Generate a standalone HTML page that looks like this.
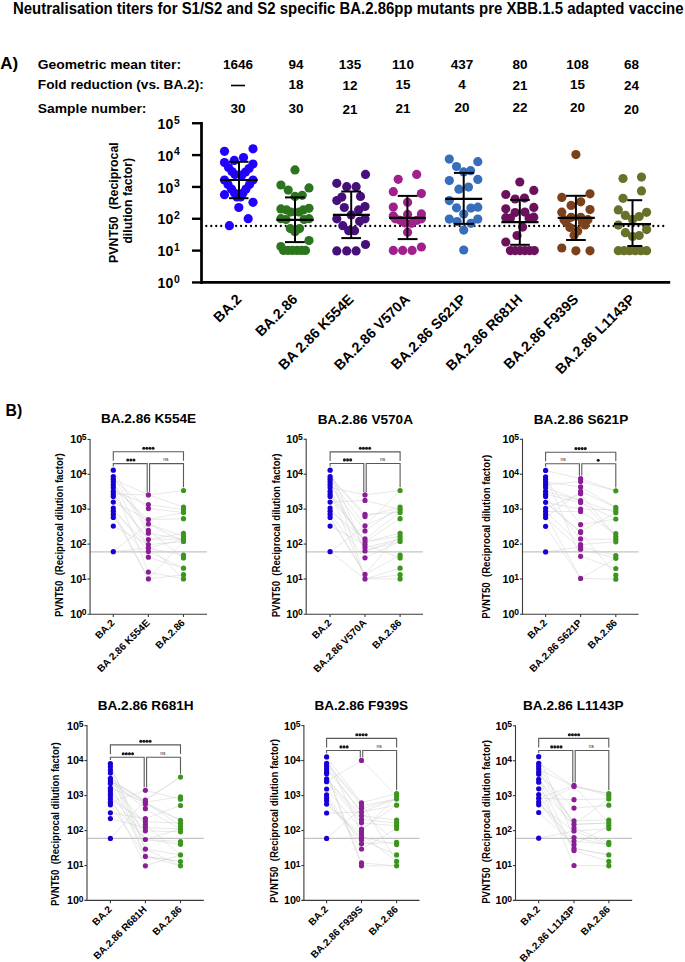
<!DOCTYPE html>
<html><head><meta charset="utf-8"><style>
html,body{margin:0;padding:0;background:#fff;}
body{width:685px;height:962px;overflow:hidden;}
svg{display:block;font-family:"Liberation Sans", sans-serif;}
</style></head><body>
<svg width="685" height="962" viewBox="0 0 685 962">
<rect width="685" height="962" fill="#fff"/>
<text x="13" y="13.7" font-size="15.6" font-weight="bold" textLength="670.5" lengthAdjust="spacingAndGlyphs" fill="#000">Neutralisation titers for S1/S2 and S2 specific BA.2.86pp mutants pre XBB.1.5 adapted vaccine</text>
<text x="0.3" y="68.9" font-size="17" font-weight="bold" fill="#000">A)</text>
<text x="37.8" y="68.8" font-size="13.6" font-weight="bold" textLength="143.3" lengthAdjust="spacingAndGlyphs" fill="#000">Geometric mean titer:</text>
<text x="37.8" y="88.9" font-size="13.6" font-weight="bold" textLength="166" lengthAdjust="spacingAndGlyphs" fill="#000">Fold reduction (vs. BA.2):</text>
<text x="37.8" y="112.6" font-size="13.6" font-weight="bold" textLength="108.6" lengthAdjust="spacingAndGlyphs" fill="#000">Sample number:</text>
<text x="238" y="68.6" font-size="13.5" font-weight="bold" text-anchor="middle" fill="#000">1646</text>
<line x1="231" y1="85.5" x2="245" y2="85.5" stroke="#000" stroke-width="1.6"/>
<text x="238" y="113.3" font-size="13.5" font-weight="bold" text-anchor="middle" fill="#000">30</text>
<text x="296" y="68.6" font-size="13.5" font-weight="bold" text-anchor="middle" fill="#000">94</text>
<text x="296" y="88.5" font-size="13.5" font-weight="bold" text-anchor="middle" fill="#000">18</text>
<text x="296" y="113.3" font-size="13.5" font-weight="bold" text-anchor="middle" fill="#000">30</text>
<text x="350" y="68.6" font-size="13.5" font-weight="bold" text-anchor="middle" fill="#000">135</text>
<text x="350" y="89.6" font-size="13.5" font-weight="bold" text-anchor="middle" fill="#000">12</text>
<text x="350" y="113.7" font-size="13.5" font-weight="bold" text-anchor="middle" fill="#000">21</text>
<text x="403" y="68.6" font-size="13.5" font-weight="bold" text-anchor="middle" fill="#000">110</text>
<text x="403" y="89.2" font-size="13.5" font-weight="bold" text-anchor="middle" fill="#000">15</text>
<text x="403" y="113.3" font-size="13.5" font-weight="bold" text-anchor="middle" fill="#000">21</text>
<text x="462" y="68.6" font-size="13.5" font-weight="bold" text-anchor="middle" fill="#000">437</text>
<text x="462" y="88.5" font-size="13.5" font-weight="bold" text-anchor="middle" fill="#000">4</text>
<text x="462" y="111.6" font-size="13.5" font-weight="bold" text-anchor="middle" fill="#000">20</text>
<text x="520" y="68.6" font-size="13.5" font-weight="bold" text-anchor="middle" fill="#000">80</text>
<text x="520" y="89.6" font-size="13.5" font-weight="bold" text-anchor="middle" fill="#000">21</text>
<text x="520" y="112" font-size="13.5" font-weight="bold" text-anchor="middle" fill="#000">22</text>
<text x="577.5" y="68.6" font-size="13.5" font-weight="bold" text-anchor="middle" fill="#000">108</text>
<text x="577.5" y="88.5" font-size="13.5" font-weight="bold" text-anchor="middle" fill="#000">15</text>
<text x="577.5" y="112" font-size="13.5" font-weight="bold" text-anchor="middle" fill="#000">20</text>
<text x="631.4" y="68.6" font-size="13.5" font-weight="bold" text-anchor="middle" fill="#000">68</text>
<text x="631.4" y="89.6" font-size="13.5" font-weight="bold" text-anchor="middle" fill="#000">24</text>
<text x="631.4" y="113.7" font-size="13.5" font-weight="bold" text-anchor="middle" fill="#000">20</text>
<line x1="206.3" y1="226" x2="668.2" y2="226" stroke="#000" stroke-width="2.3" stroke-linecap="round" stroke-dasharray="0 4.967"/>
<circle cx="224.5" cy="151.3" r="4.6" fill="#2000ff"/>
<circle cx="253" cy="148.8" r="4.6" fill="#2000ff"/>
<circle cx="234.3" cy="160.4" r="4.6" fill="#2000ff"/>
<circle cx="243.5" cy="157.5" r="4.6" fill="#2000ff"/>
<circle cx="224.5" cy="162.6" r="4.6" fill="#2000ff"/>
<circle cx="253" cy="164.1" r="4.6" fill="#2000ff"/>
<circle cx="228.5" cy="167.5" r="4.6" fill="#2000ff"/>
<circle cx="232" cy="171.5" r="4.6" fill="#2000ff"/>
<circle cx="235" cy="174.5" r="4.6" fill="#2000ff"/>
<circle cx="249" cy="168.5" r="4.6" fill="#2000ff"/>
<circle cx="245.5" cy="172" r="4.6" fill="#2000ff"/>
<circle cx="242" cy="175" r="4.6" fill="#2000ff"/>
<circle cx="224.5" cy="180" r="4.6" fill="#2000ff"/>
<circle cx="228" cy="184.5" r="4.6" fill="#2000ff"/>
<circle cx="231.5" cy="189" r="4.6" fill="#2000ff"/>
<circle cx="234.5" cy="193" r="4.6" fill="#2000ff"/>
<circle cx="237" cy="197" r="4.6" fill="#2000ff"/>
<circle cx="253" cy="180" r="4.6" fill="#2000ff"/>
<circle cx="249.5" cy="184.5" r="4.6" fill="#2000ff"/>
<circle cx="246" cy="189" r="4.6" fill="#2000ff"/>
<circle cx="243" cy="193" r="4.6" fill="#2000ff"/>
<circle cx="240.5" cy="197" r="4.6" fill="#2000ff"/>
<circle cx="224.5" cy="194.7" r="4.6" fill="#2000ff"/>
<circle cx="253" cy="202.3" r="4.6" fill="#2000ff"/>
<circle cx="238.8" cy="207.5" r="4.6" fill="#2000ff"/>
<circle cx="248.2" cy="218.7" r="4.6" fill="#2000ff"/>
<circle cx="229.4" cy="225.7" r="4.6" fill="#2000ff"/>
<circle cx="295" cy="169.9" r="4.6" fill="#2c751e"/>
<circle cx="280.9" cy="185" r="4.6" fill="#2c751e"/>
<circle cx="288.2" cy="190.1" r="4.6" fill="#2c751e"/>
<circle cx="309" cy="187.9" r="4.6" fill="#2c751e"/>
<circle cx="295" cy="196.4" r="4.6" fill="#2c751e"/>
<circle cx="302.2" cy="195.3" r="4.6" fill="#2c751e"/>
<circle cx="280.9" cy="208.9" r="4.6" fill="#2c751e"/>
<circle cx="286.6" cy="209.9" r="4.6" fill="#2c751e"/>
<circle cx="290.8" cy="212" r="4.6" fill="#2c751e"/>
<circle cx="280.9" cy="218.7" r="4.6" fill="#2c751e"/>
<circle cx="286" cy="219.5" r="4.6" fill="#2c751e"/>
<circle cx="309" cy="208.3" r="4.6" fill="#2c751e"/>
<circle cx="303.3" cy="209.9" r="4.6" fill="#2c751e"/>
<circle cx="299" cy="212" r="4.6" fill="#2c751e"/>
<circle cx="309" cy="218.7" r="4.6" fill="#2c751e"/>
<circle cx="304" cy="219.5" r="4.6" fill="#2c751e"/>
<circle cx="290.3" cy="228.6" r="4.6" fill="#2c751e"/>
<circle cx="299.6" cy="228.6" r="4.6" fill="#2c751e"/>
<circle cx="295" cy="231.7" r="4.6" fill="#2c751e"/>
<circle cx="309" cy="240.6" r="4.6" fill="#2c751e"/>
<circle cx="280.9" cy="246.6" r="4.6" fill="#2c751e"/>
<circle cx="283.5" cy="250.4" r="4.6" fill="#2c751e"/>
<circle cx="288" cy="250.4" r="4.6" fill="#2c751e"/>
<circle cx="292.5" cy="250.4" r="4.6" fill="#2c751e"/>
<circle cx="297" cy="250.4" r="4.6" fill="#2c751e"/>
<circle cx="301.5" cy="250.4" r="4.6" fill="#2c751e"/>
<circle cx="305.5" cy="250.4" r="4.6" fill="#2c751e"/>
<circle cx="365.5" cy="174.4" r="4.6" fill="#46107a"/>
<circle cx="336.8" cy="183.3" r="4.6" fill="#46107a"/>
<circle cx="346.7" cy="186.7" r="4.6" fill="#46107a"/>
<circle cx="356.1" cy="186.7" r="4.6" fill="#46107a"/>
<circle cx="341.8" cy="197.1" r="4.6" fill="#46107a"/>
<circle cx="336.8" cy="200.6" r="4.6" fill="#46107a"/>
<circle cx="360.5" cy="196.4" r="4.6" fill="#46107a"/>
<circle cx="344.3" cy="207.5" r="4.6" fill="#46107a"/>
<circle cx="365" cy="206.5" r="4.6" fill="#46107a"/>
<circle cx="358.6" cy="209.9" r="4.6" fill="#46107a"/>
<circle cx="351.2" cy="214.9" r="4.6" fill="#46107a"/>
<circle cx="336.8" cy="218.8" r="4.6" fill="#46107a"/>
<circle cx="365" cy="218.8" r="4.6" fill="#46107a"/>
<circle cx="359.6" cy="221.3" r="4.6" fill="#46107a"/>
<circle cx="342.8" cy="225.7" r="4.6" fill="#46107a"/>
<circle cx="348.7" cy="230.7" r="4.6" fill="#46107a"/>
<circle cx="354.6" cy="230.7" r="4.6" fill="#46107a"/>
<circle cx="365.5" cy="244.5" r="4.6" fill="#46107a"/>
<circle cx="336.8" cy="250.9" r="4.6" fill="#46107a"/>
<circle cx="346.7" cy="250.9" r="4.6" fill="#46107a"/>
<circle cx="356.1" cy="250.9" r="4.6" fill="#46107a"/>
<circle cx="416.7" cy="174.4" r="4.6" fill="#a0208c"/>
<circle cx="398.2" cy="179.3" r="4.6" fill="#a0208c"/>
<circle cx="393.3" cy="191.7" r="4.6" fill="#a0208c"/>
<circle cx="421.4" cy="193.6" r="4.6" fill="#a0208c"/>
<circle cx="407.6" cy="202.3" r="4.6" fill="#a0208c"/>
<circle cx="393.3" cy="207" r="4.6" fill="#a0208c"/>
<circle cx="421.4" cy="213.9" r="4.6" fill="#a0208c"/>
<circle cx="407.6" cy="214.4" r="4.6" fill="#a0208c"/>
<circle cx="393.3" cy="215.9" r="4.6" fill="#a0208c"/>
<circle cx="395.3" cy="218.8" r="4.6" fill="#a0208c"/>
<circle cx="400.2" cy="220.3" r="4.6" fill="#a0208c"/>
<circle cx="404.7" cy="222.8" r="4.6" fill="#a0208c"/>
<circle cx="411.6" cy="223.3" r="4.6" fill="#a0208c"/>
<circle cx="417" cy="220.3" r="4.6" fill="#a0208c"/>
<circle cx="421.4" cy="218.8" r="4.6" fill="#a0208c"/>
<circle cx="407.6" cy="232.2" r="4.6" fill="#a0208c"/>
<circle cx="421.4" cy="247" r="4.6" fill="#a0208c"/>
<circle cx="393.3" cy="250.4" r="4.6" fill="#a0208c"/>
<circle cx="402.7" cy="250.4" r="4.6" fill="#a0208c"/>
<circle cx="412.1" cy="250.4" r="4.6" fill="#a0208c"/>
<circle cx="449.3" cy="159.1" r="4.6" fill="#376eb9"/>
<circle cx="477.8" cy="161.7" r="4.6" fill="#376eb9"/>
<circle cx="456.5" cy="166.5" r="4.6" fill="#376eb9"/>
<circle cx="463.7" cy="171.9" r="4.6" fill="#376eb9"/>
<circle cx="470.6" cy="170.7" r="4.6" fill="#376eb9"/>
<circle cx="449.3" cy="180.6" r="4.6" fill="#376eb9"/>
<circle cx="477.8" cy="179.4" r="4.6" fill="#376eb9"/>
<circle cx="458.9" cy="189.2" r="4.6" fill="#376eb9"/>
<circle cx="468.5" cy="187.1" r="4.6" fill="#376eb9"/>
<circle cx="449.3" cy="200.6" r="4.6" fill="#376eb9"/>
<circle cx="456.5" cy="207.8" r="4.6" fill="#376eb9"/>
<circle cx="470.9" cy="208.1" r="4.6" fill="#376eb9"/>
<circle cx="477.8" cy="207.2" r="4.6" fill="#376eb9"/>
<circle cx="463.7" cy="214.1" r="4.6" fill="#376eb9"/>
<circle cx="449.3" cy="219.1" r="4.6" fill="#376eb9"/>
<circle cx="457.1" cy="221.5" r="4.6" fill="#376eb9"/>
<circle cx="470.9" cy="223.3" r="4.6" fill="#376eb9"/>
<circle cx="477.8" cy="219.1" r="4.6" fill="#376eb9"/>
<circle cx="463.7" cy="230.1" r="4.6" fill="#376eb9"/>
<circle cx="463.7" cy="250" r="4.6" fill="#376eb9"/>
<circle cx="519.8" cy="182" r="4.6" fill="#6a125c"/>
<circle cx="533.8" cy="190.4" r="4.6" fill="#6a125c"/>
<circle cx="505.8" cy="194.5" r="4.6" fill="#6a125c"/>
<circle cx="515.1" cy="199" r="4.6" fill="#6a125c"/>
<circle cx="524.5" cy="198.1" r="4.6" fill="#6a125c"/>
<circle cx="505.8" cy="208.8" r="4.6" fill="#6a125c"/>
<circle cx="533.8" cy="207.4" r="4.6" fill="#6a125c"/>
<circle cx="515.1" cy="212.6" r="4.6" fill="#6a125c"/>
<circle cx="524.9" cy="212.1" r="4.6" fill="#6a125c"/>
<circle cx="505.8" cy="217.7" r="4.6" fill="#6a125c"/>
<circle cx="510.4" cy="218.2" r="4.6" fill="#6a125c"/>
<circle cx="533.8" cy="217.2" r="4.6" fill="#6a125c"/>
<circle cx="529.1" cy="218.2" r="4.6" fill="#6a125c"/>
<circle cx="522.6" cy="227.1" r="4.6" fill="#6a125c"/>
<circle cx="517" cy="235.5" r="4.6" fill="#6a125c"/>
<circle cx="505.8" cy="242" r="4.6" fill="#6a125c"/>
<circle cx="510.4" cy="250.6" r="4.6" fill="#6a125c"/>
<circle cx="515.2" cy="250.6" r="4.6" fill="#6a125c"/>
<circle cx="520" cy="250.6" r="4.6" fill="#6a125c"/>
<circle cx="524.8" cy="250.6" r="4.6" fill="#6a125c"/>
<circle cx="529.6" cy="250.6" r="4.6" fill="#6a125c"/>
<circle cx="534.3" cy="250.6" r="4.6" fill="#6a125c"/>
<circle cx="575.9" cy="154.6" r="4.6" fill="#7b411a"/>
<circle cx="590" cy="193.8" r="4.6" fill="#7b411a"/>
<circle cx="561.8" cy="197.4" r="4.6" fill="#7b411a"/>
<circle cx="580.7" cy="201.8" r="4.6" fill="#7b411a"/>
<circle cx="571.1" cy="205.4" r="4.6" fill="#7b411a"/>
<circle cx="590" cy="209.6" r="4.6" fill="#7b411a"/>
<circle cx="561.8" cy="212.2" r="4.6" fill="#7b411a"/>
<circle cx="571.1" cy="217.3" r="4.6" fill="#7b411a"/>
<circle cx="580.7" cy="217.3" r="4.6" fill="#7b411a"/>
<circle cx="564" cy="219.7" r="4.6" fill="#7b411a"/>
<circle cx="587.9" cy="219.7" r="4.6" fill="#7b411a"/>
<circle cx="566" cy="222" r="4.6" fill="#7b411a"/>
<circle cx="585" cy="225" r="4.6" fill="#7b411a"/>
<circle cx="569.9" cy="227.5" r="4.6" fill="#7b411a"/>
<circle cx="582.5" cy="222.7" r="4.6" fill="#7b411a"/>
<circle cx="577.7" cy="231.1" r="4.6" fill="#7b411a"/>
<circle cx="574.1" cy="235.3" r="4.6" fill="#7b411a"/>
<circle cx="561.8" cy="248" r="4.6" fill="#7b411a"/>
<circle cx="575.9" cy="250.8" r="4.6" fill="#7b411a"/>
<circle cx="590" cy="250.8" r="4.6" fill="#7b411a"/>
<circle cx="623" cy="178.5" r="4.6" fill="#68702a"/>
<circle cx="641.5" cy="177.1" r="4.6" fill="#68702a"/>
<circle cx="641.5" cy="190.9" r="4.6" fill="#68702a"/>
<circle cx="623" cy="198.3" r="4.6" fill="#68702a"/>
<circle cx="618.3" cy="209.9" r="4.6" fill="#68702a"/>
<circle cx="625.4" cy="215.4" r="4.6" fill="#68702a"/>
<circle cx="632.5" cy="219.4" r="4.6" fill="#68702a"/>
<circle cx="639.2" cy="216.5" r="4.6" fill="#68702a"/>
<circle cx="646.6" cy="212.3" r="4.6" fill="#68702a"/>
<circle cx="618.3" cy="225.1" r="4.6" fill="#68702a"/>
<circle cx="625.4" cy="232.7" r="4.6" fill="#68702a"/>
<circle cx="632.5" cy="236.5" r="4.6" fill="#68702a"/>
<circle cx="639.2" cy="235.5" r="4.6" fill="#68702a"/>
<circle cx="646.6" cy="229.6" r="4.6" fill="#68702a"/>
<circle cx="618.3" cy="250.7" r="4.6" fill="#68702a"/>
<circle cx="624" cy="250.7" r="4.6" fill="#68702a"/>
<circle cx="629.6" cy="250.7" r="4.6" fill="#68702a"/>
<circle cx="635.3" cy="250.7" r="4.6" fill="#68702a"/>
<circle cx="641" cy="250.7" r="4.6" fill="#68702a"/>
<circle cx="646.6" cy="250.7" r="4.6" fill="#68702a"/>
<line x1="239" y1="161.8" x2="239" y2="198.2" stroke="#000" stroke-width="2"/>
<line x1="229" y1="161.8" x2="248.5" y2="161.8" stroke="#000" stroke-width="2"/>
<line x1="229" y1="198.2" x2="248.5" y2="198.2" stroke="#000" stroke-width="2"/>
<line x1="220.3" y1="180" x2="257.6" y2="180" stroke="#000" stroke-width="2.2"/>
<line x1="295" y1="197.4" x2="295" y2="242.1" stroke="#000" stroke-width="2"/>
<line x1="285" y1="197.4" x2="304.8" y2="197.4" stroke="#000" stroke-width="2"/>
<line x1="285" y1="242.1" x2="304.8" y2="242.1" stroke="#000" stroke-width="2"/>
<line x1="276.4" y1="219.8" x2="313.7" y2="219.8" stroke="#000" stroke-width="2.2"/>
<line x1="351.2" y1="191.5" x2="351.2" y2="238.1" stroke="#000" stroke-width="2"/>
<line x1="341.3" y1="191.5" x2="361" y2="191.5" stroke="#000" stroke-width="2"/>
<line x1="341.3" y1="238.1" x2="361" y2="238.1" stroke="#000" stroke-width="2"/>
<line x1="332.9" y1="214.9" x2="369.9" y2="214.9" stroke="#000" stroke-width="2.2"/>
<line x1="407.4" y1="195.9" x2="407.4" y2="239.1" stroke="#000" stroke-width="2"/>
<line x1="397.7" y1="195.9" x2="417.5" y2="195.9" stroke="#000" stroke-width="2"/>
<line x1="397.7" y1="239.1" x2="417.5" y2="239.1" stroke="#000" stroke-width="2"/>
<line x1="389" y1="217.8" x2="425.9" y2="217.8" stroke="#000" stroke-width="2.2"/>
<line x1="463.7" y1="172.9" x2="463.7" y2="223.9" stroke="#000" stroke-width="2"/>
<line x1="453.9" y1="172.9" x2="473.9" y2="172.9" stroke="#000" stroke-width="2"/>
<line x1="453.9" y1="223.9" x2="473.9" y2="223.9" stroke="#000" stroke-width="2"/>
<line x1="445.2" y1="198.8" x2="482.2" y2="198.8" stroke="#000" stroke-width="2.2"/>
<line x1="519.8" y1="199.9" x2="519.8" y2="244.8" stroke="#000" stroke-width="2"/>
<line x1="510.2" y1="199.9" x2="529.8" y2="199.9" stroke="#000" stroke-width="2"/>
<line x1="510.2" y1="244.8" x2="529.8" y2="244.8" stroke="#000" stroke-width="2"/>
<line x1="501.4" y1="222.2" x2="538.5" y2="222.2" stroke="#000" stroke-width="2.2"/>
<line x1="575.9" y1="195.8" x2="575.9" y2="240" stroke="#000" stroke-width="2"/>
<line x1="566.1" y1="195.8" x2="585.8" y2="195.8" stroke="#000" stroke-width="2"/>
<line x1="566.1" y1="240" x2="585.8" y2="240" stroke="#000" stroke-width="2"/>
<line x1="557.7" y1="217.9" x2="594.8" y2="217.9" stroke="#000" stroke-width="2.2"/>
<line x1="632.5" y1="200.2" x2="632.5" y2="246" stroke="#000" stroke-width="2"/>
<line x1="627.3" y1="200.2" x2="642.2" y2="200.2" stroke="#000" stroke-width="2"/>
<line x1="627.3" y1="246" x2="642.2" y2="246" stroke="#000" stroke-width="2"/>
<line x1="614" y1="224.1" x2="651" y2="224.1" stroke="#000" stroke-width="2.2"/>
<line x1="201.5" y1="122" x2="201.5" y2="283.8" stroke="#000" stroke-width="2.75"/>
<line x1="200.2" y1="282.45" x2="670.2" y2="282.45" stroke="#000" stroke-width="2.7"/>
<line x1="192" y1="282.45" x2="201.5" y2="282.45" stroke="#000" stroke-width="2.4"/>
<text x="173.2" y="288.05" font-size="14" font-weight="bold" text-anchor="end" fill="#000">10</text>
<text x="173.9" y="282.85" font-size="10.4" font-weight="bold" fill="#000">0</text>
<line x1="192" y1="250.61" x2="201.5" y2="250.61" stroke="#000" stroke-width="2.4"/>
<text x="173.2" y="256.21" font-size="14" font-weight="bold" text-anchor="end" fill="#000">10</text>
<text x="173.9" y="251.01" font-size="10.4" font-weight="bold" fill="#000">1</text>
<line x1="192" y1="218.77" x2="201.5" y2="218.77" stroke="#000" stroke-width="2.4"/>
<text x="173.2" y="224.37" font-size="14" font-weight="bold" text-anchor="end" fill="#000">10</text>
<text x="173.9" y="219.17" font-size="10.4" font-weight="bold" fill="#000">2</text>
<line x1="192" y1="186.93" x2="201.5" y2="186.93" stroke="#000" stroke-width="2.4"/>
<text x="173.2" y="192.53" font-size="14" font-weight="bold" text-anchor="end" fill="#000">10</text>
<text x="173.9" y="187.33" font-size="10.4" font-weight="bold" fill="#000">3</text>
<line x1="192" y1="155.09" x2="201.5" y2="155.09" stroke="#000" stroke-width="2.4"/>
<text x="173.2" y="160.69" font-size="14" font-weight="bold" text-anchor="end" fill="#000">10</text>
<text x="173.9" y="155.49" font-size="10.4" font-weight="bold" fill="#000">4</text>
<line x1="192" y1="123.25" x2="201.5" y2="123.25" stroke="#000" stroke-width="2.4"/>
<text x="173.2" y="128.85" font-size="14" font-weight="bold" text-anchor="end" fill="#000">10</text>
<text x="173.9" y="123.65" font-size="10.4" font-weight="bold" fill="#000">5</text>
<text transform="translate(117.6,202.6) rotate(-90)" font-size="12.9" font-weight="bold" text-anchor="middle" textLength="120.6" lengthAdjust="spacingAndGlyphs">PVNT50 &#160;(Reciprocal</text>
<text transform="translate(132,200.8) rotate(-90)" font-size="12.9" font-weight="bold" text-anchor="middle" textLength="85.6" lengthAdjust="spacingAndGlyphs">dilution factor)</text>
<text transform="translate(242.4,300.2) rotate(-45)" font-size="14.3" font-weight="bold" text-anchor="end">BA.2</text>
<text transform="translate(298.4,300.2) rotate(-45)" font-size="14.3" font-weight="bold" text-anchor="end">BA.2.86</text>
<text transform="translate(354.6,300.2) rotate(-45)" font-size="14.3" font-weight="bold" text-anchor="end">BA 2.86 K554E</text>
<text transform="translate(410.8,300.2) rotate(-45)" font-size="14.3" font-weight="bold" text-anchor="end">BA.2.86 V570A</text>
<text transform="translate(467.1,300.2) rotate(-45)" font-size="14.3" font-weight="bold" text-anchor="end">BA.2.86 S621P</text>
<text transform="translate(523.2,300.2) rotate(-45)" font-size="14.3" font-weight="bold" text-anchor="end">BA.2.86 R681H</text>
<text transform="translate(579.3,300.2) rotate(-45)" font-size="14.3" font-weight="bold" text-anchor="end">BA.2.86 F939S</text>
<text transform="translate(635.9,300.2) rotate(-45)" font-size="14.3" font-weight="bold" text-anchor="end">BA.2.86 L1143P</text>
<text x="5.5" y="416.4" font-size="15.8" font-weight="bold" fill="#000">B)</text>
<text x="148.5" y="423.1" font-size="13.6" font-weight="bold" text-anchor="middle" fill="#000">BA.2.86 K554E</text>
<line x1="90.05" y1="551.85" x2="207" y2="551.85" stroke="#c4c4c4" stroke-width="1.3"/>
<path d="M113.3 470.2L148.4 530.3L183.5 558M113.3 476.6L148.4 533.2L183.5 539M113.3 479.2L148.4 494.9L183.5 507M113.3 479.2L148.4 508.6L183.5 512.4M113.3 481.8L148.4 548.1L183.5 555.2M113.3 484.6L148.4 572.1L183.5 578.9M113.3 484.6L148.4 524L183.5 541.5M113.3 487.4L148.4 519.5L183.5 512.4M113.3 491.2L148.4 504.6L183.5 509.6M113.3 494L148.4 494.9L183.5 490.5M113.3 494L148.4 539.5L183.5 539M113.3 496.4L148.4 539.5L183.5 533.3M113.3 502.1L148.4 519.5L183.5 518.7M113.3 508.1L148.4 551.5L183.5 568.2M113.3 511.2L148.4 544.6L183.5 578.9M113.3 511.2L148.4 578.9L183.5 541.5M113.3 514.3L148.4 578.9L183.5 574.7M113.3 517.4L148.4 557.2L183.5 568.2M113.3 526.1L148.4 544.6L183.5 541.5M113.3 551.7L148.4 548.1L183.5 539M113.3 551.7L148.4 524L183.5 536.3" fill="none" stroke="#d0d0d0" stroke-width="0.5"/>
<circle cx="113.3" cy="470.2" r="2.6" fill="#1600d4"/>
<circle cx="113.3" cy="476.6" r="2.6" fill="#1600d4"/>
<circle cx="113.3" cy="479.2" r="2.6" fill="#1600d4"/>
<circle cx="113.3" cy="481.8" r="2.6" fill="#1600d4"/>
<circle cx="113.3" cy="484.6" r="2.6" fill="#1600d4"/>
<circle cx="113.3" cy="487.4" r="2.6" fill="#1600d4"/>
<circle cx="113.3" cy="491.2" r="2.6" fill="#1600d4"/>
<circle cx="113.3" cy="494" r="2.6" fill="#1600d4"/>
<circle cx="113.3" cy="496.4" r="2.6" fill="#1600d4"/>
<circle cx="113.3" cy="502.1" r="2.6" fill="#1600d4"/>
<circle cx="113.3" cy="508.1" r="2.6" fill="#1600d4"/>
<circle cx="113.3" cy="511.2" r="2.6" fill="#1600d4"/>
<circle cx="113.3" cy="514.3" r="2.6" fill="#1600d4"/>
<circle cx="113.3" cy="517.4" r="2.6" fill="#1600d4"/>
<circle cx="113.3" cy="526.1" r="2.6" fill="#1600d4"/>
<circle cx="113.3" cy="551.7" r="2.6" fill="#1600d4"/>
<circle cx="148.4" cy="494.9" r="2.6" fill="#8a1e96"/>
<circle cx="148.4" cy="504.6" r="2.6" fill="#8a1e96"/>
<circle cx="148.4" cy="508.6" r="2.6" fill="#8a1e96"/>
<circle cx="148.4" cy="519.5" r="2.6" fill="#8a1e96"/>
<circle cx="148.4" cy="524" r="2.6" fill="#8a1e96"/>
<circle cx="148.4" cy="530.3" r="2.6" fill="#8a1e96"/>
<circle cx="148.4" cy="533.2" r="2.6" fill="#8a1e96"/>
<circle cx="148.4" cy="539.5" r="2.6" fill="#8a1e96"/>
<circle cx="148.4" cy="544.6" r="2.6" fill="#8a1e96"/>
<circle cx="148.4" cy="548.1" r="2.6" fill="#8a1e96"/>
<circle cx="148.4" cy="551.5" r="2.6" fill="#8a1e96"/>
<circle cx="148.4" cy="557.2" r="2.6" fill="#8a1e96"/>
<circle cx="148.4" cy="572.1" r="2.6" fill="#8a1e96"/>
<circle cx="148.4" cy="578.9" r="2.6" fill="#8a1e96"/>
<circle cx="183.5" cy="490.5" r="2.6" fill="#3c961e"/>
<circle cx="183.5" cy="507" r="2.6" fill="#3c961e"/>
<circle cx="183.5" cy="509.6" r="2.6" fill="#3c961e"/>
<circle cx="183.5" cy="512.4" r="2.6" fill="#3c961e"/>
<circle cx="183.5" cy="518.7" r="2.6" fill="#3c961e"/>
<circle cx="183.5" cy="533.3" r="2.6" fill="#3c961e"/>
<circle cx="183.5" cy="536.3" r="2.6" fill="#3c961e"/>
<circle cx="183.5" cy="539" r="2.6" fill="#3c961e"/>
<circle cx="183.5" cy="541.5" r="2.6" fill="#3c961e"/>
<circle cx="183.5" cy="555.2" r="2.6" fill="#3c961e"/>
<circle cx="183.5" cy="558" r="2.6" fill="#3c961e"/>
<circle cx="183.5" cy="568.2" r="2.6" fill="#3c961e"/>
<circle cx="183.5" cy="574.7" r="2.6" fill="#3c961e"/>
<circle cx="183.5" cy="578.9" r="2.6" fill="#3c961e"/>
<line x1="90.05" y1="438.9" x2="90.05" y2="614.2" stroke="#3a3a3a" stroke-width="1.1"/>
<line x1="87.45" y1="614.2" x2="207" y2="614.2" stroke="#3a3a3a" stroke-width="1.15"/>
<text x="82.15" y="617.8" font-size="10.8" font-weight="bold" text-anchor="end" fill="#000">10</text>
<text x="81.85" y="614.9" font-size="8.5" font-weight="bold" fill="#000">0</text>
<line x1="87.45" y1="579" x2="90.05" y2="579" stroke="#3a3a3a" stroke-width="1.1"/>
<text x="82.15" y="582.9" font-size="10.8" font-weight="bold" text-anchor="end" fill="#000">10</text>
<text x="81.85" y="580" font-size="8.5" font-weight="bold" fill="#000">1</text>
<line x1="87.45" y1="544.1" x2="90.05" y2="544.1" stroke="#3a3a3a" stroke-width="1.1"/>
<text x="82.15" y="548" font-size="10.8" font-weight="bold" text-anchor="end" fill="#000">10</text>
<text x="81.85" y="545.1" font-size="8.5" font-weight="bold" fill="#000">2</text>
<line x1="87.45" y1="509.2" x2="90.05" y2="509.2" stroke="#3a3a3a" stroke-width="1.1"/>
<text x="82.15" y="513.1" font-size="10.8" font-weight="bold" text-anchor="end" fill="#000">10</text>
<text x="81.85" y="510.2" font-size="8.5" font-weight="bold" fill="#000">3</text>
<line x1="87.45" y1="474.3" x2="90.05" y2="474.3" stroke="#3a3a3a" stroke-width="1.1"/>
<text x="82.15" y="478.2" font-size="10.8" font-weight="bold" text-anchor="end" fill="#000">10</text>
<text x="81.85" y="475.3" font-size="8.5" font-weight="bold" fill="#000">4</text>
<line x1="87.45" y1="439.4" x2="90.05" y2="439.4" stroke="#3a3a3a" stroke-width="1.1"/>
<text x="82.15" y="443.3" font-size="10.8" font-weight="bold" text-anchor="end" fill="#000">10</text>
<text x="81.85" y="440.4" font-size="8.5" font-weight="bold" fill="#000">5</text>
<line x1="113.3" y1="614.2" x2="113.3" y2="617" stroke="#3a3a3a" stroke-width="1.1"/>
<line x1="148.4" y1="614.2" x2="148.4" y2="617" stroke="#3a3a3a" stroke-width="1.1"/>
<line x1="183.5" y1="614.2" x2="183.5" y2="617" stroke="#3a3a3a" stroke-width="1.1"/>
<text transform="translate(63.2,535.1) rotate(-90)" font-size="10.8" font-weight="bold" text-anchor="middle" textLength="163.8" lengthAdjust="spacingAndGlyphs">PVNT50 &#160;(Reciprocal dilution factor)</text>
<text transform="translate(115.3,623.5) rotate(-45)" font-size="10" font-weight="bold" text-anchor="end">BA.2</text>
<text transform="translate(150.4,623.5) rotate(-45)" font-size="10" font-weight="bold" text-anchor="end">BA 2.86 K554E</text>
<text transform="translate(185.5,623.5) rotate(-45)" font-size="10" font-weight="bold" text-anchor="end">BA.2.86</text>
<path d="M113.3 460.8V451.8H183.5V460.8" fill="none" stroke="#5a5a5a" stroke-width="1.1"/>
<path d="M113.3 466.6V463.6H147.2V491.9" fill="none" stroke="#5a5a5a" stroke-width="1.1"/>
<path d="M149.6 491.9V463.6H183.5V487.2" fill="none" stroke="#5a5a5a" stroke-width="1.1"/>
<circle cx="127.75" cy="460" r="1.55" fill="#1a1a1a"/>
<circle cx="130.85" cy="460" r="1.55" fill="#1a1a1a"/>
<circle cx="133.95" cy="460" r="1.55" fill="#1a1a1a"/>
<text x="165.95" y="461.1" font-size="5.8" text-anchor="middle" textLength="5.2" lengthAdjust="spacingAndGlyphs" fill="#222">ns</text>
<circle cx="143.75" cy="448.2" r="1.55" fill="#1a1a1a"/>
<circle cx="146.85" cy="448.2" r="1.55" fill="#1a1a1a"/>
<circle cx="149.95" cy="448.2" r="1.55" fill="#1a1a1a"/>
<circle cx="153.05" cy="448.2" r="1.55" fill="#1a1a1a"/>
<text x="365.4" y="423.7" font-size="13.6" font-weight="bold" text-anchor="middle" fill="#000">BA.2.86 V570A</text>
<line x1="306.2" y1="551.81" x2="423" y2="551.81" stroke="#c4c4c4" stroke-width="1.3"/>
<path d="M330.1 470.2L365 550.9L400.1 541.5M330.1 470.2L365 578.9L400.1 568.2M330.1 476.6L365 514.3L400.1 512.4M330.1 476.6L365 516.6L400.1 507M330.1 479.2L365 525.8L400.1 509.6M330.1 481.8L365 550.9L400.1 539M330.1 484.6L365 530.9L400.1 507M330.1 487.4L365 494.9L400.1 490.5M330.1 491.2L365 541.8L400.1 536.3M330.1 491.2L365 578.9L400.1 574.7M330.1 494L365 541.8L400.1 533.3M330.1 496.4L365 541.8L400.1 518.7M330.1 502.1L365 500.4L400.1 509.6M330.1 508.1L365 547.5L400.1 539M330.1 511.2L365 538.9L400.1 512.4M330.1 514.3L365 557.8L400.1 541.5M330.1 517.4L365 574.4L400.1 555.2M330.1 517.4L365 574.4L400.1 533.3M330.1 526.1L365 544.6L400.1 558M330.1 551.7L365 525.8L400.1 490.5M330.1 551.7L365 578.9L400.1 578.9" fill="none" stroke="#d0d0d0" stroke-width="0.5"/>
<circle cx="330.1" cy="470.2" r="2.6" fill="#1600d4"/>
<circle cx="330.1" cy="476.6" r="2.6" fill="#1600d4"/>
<circle cx="330.1" cy="479.2" r="2.6" fill="#1600d4"/>
<circle cx="330.1" cy="481.8" r="2.6" fill="#1600d4"/>
<circle cx="330.1" cy="484.6" r="2.6" fill="#1600d4"/>
<circle cx="330.1" cy="487.4" r="2.6" fill="#1600d4"/>
<circle cx="330.1" cy="491.2" r="2.6" fill="#1600d4"/>
<circle cx="330.1" cy="494" r="2.6" fill="#1600d4"/>
<circle cx="330.1" cy="496.4" r="2.6" fill="#1600d4"/>
<circle cx="330.1" cy="502.1" r="2.6" fill="#1600d4"/>
<circle cx="330.1" cy="508.1" r="2.6" fill="#1600d4"/>
<circle cx="330.1" cy="511.2" r="2.6" fill="#1600d4"/>
<circle cx="330.1" cy="514.3" r="2.6" fill="#1600d4"/>
<circle cx="330.1" cy="517.4" r="2.6" fill="#1600d4"/>
<circle cx="330.1" cy="526.1" r="2.6" fill="#1600d4"/>
<circle cx="330.1" cy="551.7" r="2.6" fill="#1600d4"/>
<circle cx="365" cy="494.9" r="2.6" fill="#8a1e96"/>
<circle cx="365" cy="500.4" r="2.6" fill="#8a1e96"/>
<circle cx="365" cy="514.3" r="2.6" fill="#8a1e96"/>
<circle cx="365" cy="516.6" r="2.6" fill="#8a1e96"/>
<circle cx="365" cy="525.8" r="2.6" fill="#8a1e96"/>
<circle cx="365" cy="530.9" r="2.6" fill="#8a1e96"/>
<circle cx="365" cy="538.9" r="2.6" fill="#8a1e96"/>
<circle cx="365" cy="541.8" r="2.6" fill="#8a1e96"/>
<circle cx="365" cy="544.6" r="2.6" fill="#8a1e96"/>
<circle cx="365" cy="547.5" r="2.6" fill="#8a1e96"/>
<circle cx="365" cy="550.9" r="2.6" fill="#8a1e96"/>
<circle cx="365" cy="557.8" r="2.6" fill="#8a1e96"/>
<circle cx="365" cy="574.4" r="2.6" fill="#8a1e96"/>
<circle cx="365" cy="578.9" r="2.6" fill="#8a1e96"/>
<circle cx="400.1" cy="490.5" r="2.6" fill="#3c961e"/>
<circle cx="400.1" cy="507" r="2.6" fill="#3c961e"/>
<circle cx="400.1" cy="509.6" r="2.6" fill="#3c961e"/>
<circle cx="400.1" cy="512.4" r="2.6" fill="#3c961e"/>
<circle cx="400.1" cy="518.7" r="2.6" fill="#3c961e"/>
<circle cx="400.1" cy="533.3" r="2.6" fill="#3c961e"/>
<circle cx="400.1" cy="536.3" r="2.6" fill="#3c961e"/>
<circle cx="400.1" cy="539" r="2.6" fill="#3c961e"/>
<circle cx="400.1" cy="541.5" r="2.6" fill="#3c961e"/>
<circle cx="400.1" cy="555.2" r="2.6" fill="#3c961e"/>
<circle cx="400.1" cy="558" r="2.6" fill="#3c961e"/>
<circle cx="400.1" cy="568.2" r="2.6" fill="#3c961e"/>
<circle cx="400.1" cy="574.7" r="2.6" fill="#3c961e"/>
<circle cx="400.1" cy="578.9" r="2.6" fill="#3c961e"/>
<line x1="306.2" y1="438.8" x2="306.2" y2="614.2" stroke="#3a3a3a" stroke-width="1.1"/>
<line x1="303.6" y1="614.2" x2="423" y2="614.2" stroke="#3a3a3a" stroke-width="1.15"/>
<text x="298.3" y="617.8" font-size="10.8" font-weight="bold" text-anchor="end" fill="#000">10</text>
<text x="298" y="614.9" font-size="8.5" font-weight="bold" fill="#000">0</text>
<line x1="303.6" y1="578.98" x2="306.2" y2="578.98" stroke="#3a3a3a" stroke-width="1.1"/>
<text x="298.3" y="582.88" font-size="10.8" font-weight="bold" text-anchor="end" fill="#000">10</text>
<text x="298" y="579.98" font-size="8.5" font-weight="bold" fill="#000">1</text>
<line x1="303.6" y1="544.06" x2="306.2" y2="544.06" stroke="#3a3a3a" stroke-width="1.1"/>
<text x="298.3" y="547.96" font-size="10.8" font-weight="bold" text-anchor="end" fill="#000">10</text>
<text x="298" y="545.06" font-size="8.5" font-weight="bold" fill="#000">2</text>
<line x1="303.6" y1="509.14" x2="306.2" y2="509.14" stroke="#3a3a3a" stroke-width="1.1"/>
<text x="298.3" y="513.04" font-size="10.8" font-weight="bold" text-anchor="end" fill="#000">10</text>
<text x="298" y="510.14" font-size="8.5" font-weight="bold" fill="#000">3</text>
<line x1="303.6" y1="474.22" x2="306.2" y2="474.22" stroke="#3a3a3a" stroke-width="1.1"/>
<text x="298.3" y="478.12" font-size="10.8" font-weight="bold" text-anchor="end" fill="#000">10</text>
<text x="298" y="475.22" font-size="8.5" font-weight="bold" fill="#000">4</text>
<line x1="303.6" y1="439.3" x2="306.2" y2="439.3" stroke="#3a3a3a" stroke-width="1.1"/>
<text x="298.3" y="443.2" font-size="10.8" font-weight="bold" text-anchor="end" fill="#000">10</text>
<text x="298" y="440.3" font-size="8.5" font-weight="bold" fill="#000">5</text>
<line x1="330.1" y1="614.2" x2="330.1" y2="617" stroke="#3a3a3a" stroke-width="1.1"/>
<line x1="365" y1="614.2" x2="365" y2="617" stroke="#3a3a3a" stroke-width="1.1"/>
<line x1="400.1" y1="614.2" x2="400.1" y2="617" stroke="#3a3a3a" stroke-width="1.1"/>
<text transform="translate(279.6,535.4) rotate(-90)" font-size="10.8" font-weight="bold" text-anchor="middle" textLength="163.8" lengthAdjust="spacingAndGlyphs">PVNT50 &#160;(Reciprocal dilution factor)</text>
<text transform="translate(332.1,623.5) rotate(-45)" font-size="10" font-weight="bold" text-anchor="end">BA.2</text>
<text transform="translate(367,623.5) rotate(-45)" font-size="10" font-weight="bold" text-anchor="end">BA.2.86 V570A</text>
<text transform="translate(402.1,623.5) rotate(-45)" font-size="10" font-weight="bold" text-anchor="end">BA.2.86</text>
<path d="M330.1 460.9V451.9H400.1V460.9" fill="none" stroke="#5a5a5a" stroke-width="1.1"/>
<path d="M330.1 466.6V463.5H363.8V491.9" fill="none" stroke="#5a5a5a" stroke-width="1.1"/>
<path d="M366.2 491.9V463.5H400.1V487.2" fill="none" stroke="#5a5a5a" stroke-width="1.1"/>
<circle cx="344.45" cy="459.9" r="1.55" fill="#1a1a1a"/>
<circle cx="347.55" cy="459.9" r="1.55" fill="#1a1a1a"/>
<circle cx="350.65" cy="459.9" r="1.55" fill="#1a1a1a"/>
<text x="382.55" y="461" font-size="5.8" text-anchor="middle" textLength="5.2" lengthAdjust="spacingAndGlyphs" fill="#222">ns</text>
<circle cx="360.35" cy="448.3" r="1.55" fill="#1a1a1a"/>
<circle cx="363.45" cy="448.3" r="1.55" fill="#1a1a1a"/>
<circle cx="366.55" cy="448.3" r="1.55" fill="#1a1a1a"/>
<circle cx="369.65" cy="448.3" r="1.55" fill="#1a1a1a"/>
<text x="581" y="423.7" font-size="13.6" font-weight="bold" text-anchor="middle" fill="#000">BA.2.86 S621P</text>
<line x1="522.5" y1="551.81" x2="638.6" y2="551.81" stroke="#c4c4c4" stroke-width="1.3"/>
<path d="M545.6 470.4L580.6 478.7L615.8 490.8M545.6 476.8L580.6 556.3L615.8 568.5M545.6 479.4L580.6 524.6L615.8 519M545.6 482L580.6 486.9L615.8 507.3M545.6 484.8L580.6 481.5L615.8 490.8M545.6 487.6L580.6 500.5L615.8 536.6M545.6 491.4L580.6 500.5L615.8 512.7M545.6 494.2L580.6 502.4L615.8 519M545.6 496.6L580.6 538.9L615.8 539.3M545.6 502.3L580.6 509L615.8 509.9M545.6 502.3L580.6 532.6L615.8 575M545.6 502.3L580.6 531.5L615.8 512.7M545.6 508.3L580.6 493.7L615.8 536.6M545.6 511.4L580.6 511.5L615.8 533.6M545.6 511.4L580.6 544.6L615.8 541.8M545.6 514.5L580.6 578.4L615.8 579.2M545.6 517.6L580.6 491.4L615.8 507.3M545.6 517.6L580.6 549.2L615.8 558.3M545.6 526.3L580.6 578.4L615.8 558.3M545.6 551.9L580.6 546.9L615.8 555.5" fill="none" stroke="#d0d0d0" stroke-width="0.5"/>
<circle cx="545.6" cy="470.4" r="2.6" fill="#1600d4"/>
<circle cx="545.6" cy="476.8" r="2.6" fill="#1600d4"/>
<circle cx="545.6" cy="479.4" r="2.6" fill="#1600d4"/>
<circle cx="545.6" cy="482" r="2.6" fill="#1600d4"/>
<circle cx="545.6" cy="484.8" r="2.6" fill="#1600d4"/>
<circle cx="545.6" cy="487.6" r="2.6" fill="#1600d4"/>
<circle cx="545.6" cy="491.4" r="2.6" fill="#1600d4"/>
<circle cx="545.6" cy="494.2" r="2.6" fill="#1600d4"/>
<circle cx="545.6" cy="496.6" r="2.6" fill="#1600d4"/>
<circle cx="545.6" cy="502.3" r="2.6" fill="#1600d4"/>
<circle cx="545.6" cy="508.3" r="2.6" fill="#1600d4"/>
<circle cx="545.6" cy="511.4" r="2.6" fill="#1600d4"/>
<circle cx="545.6" cy="514.5" r="2.6" fill="#1600d4"/>
<circle cx="545.6" cy="517.6" r="2.6" fill="#1600d4"/>
<circle cx="545.6" cy="526.3" r="2.6" fill="#1600d4"/>
<circle cx="545.6" cy="551.9" r="2.6" fill="#1600d4"/>
<circle cx="580.6" cy="478.7" r="2.6" fill="#8a1e96"/>
<circle cx="580.6" cy="481.5" r="2.6" fill="#8a1e96"/>
<circle cx="580.6" cy="486.9" r="2.6" fill="#8a1e96"/>
<circle cx="580.6" cy="491.4" r="2.6" fill="#8a1e96"/>
<circle cx="580.6" cy="493.7" r="2.6" fill="#8a1e96"/>
<circle cx="580.6" cy="500.5" r="2.6" fill="#8a1e96"/>
<circle cx="580.6" cy="502.4" r="2.6" fill="#8a1e96"/>
<circle cx="580.6" cy="509" r="2.6" fill="#8a1e96"/>
<circle cx="580.6" cy="511.5" r="2.6" fill="#8a1e96"/>
<circle cx="580.6" cy="524.6" r="2.6" fill="#8a1e96"/>
<circle cx="580.6" cy="531.5" r="2.6" fill="#8a1e96"/>
<circle cx="580.6" cy="532.6" r="2.6" fill="#8a1e96"/>
<circle cx="580.6" cy="538.9" r="2.6" fill="#8a1e96"/>
<circle cx="580.6" cy="544.6" r="2.6" fill="#8a1e96"/>
<circle cx="580.6" cy="546.9" r="2.6" fill="#8a1e96"/>
<circle cx="580.6" cy="549.2" r="2.6" fill="#8a1e96"/>
<circle cx="580.6" cy="556.3" r="2.6" fill="#8a1e96"/>
<circle cx="580.6" cy="578.4" r="2.6" fill="#8a1e96"/>
<circle cx="615.8" cy="490.8" r="2.6" fill="#3c961e"/>
<circle cx="615.8" cy="507.3" r="2.6" fill="#3c961e"/>
<circle cx="615.8" cy="509.9" r="2.6" fill="#3c961e"/>
<circle cx="615.8" cy="512.7" r="2.6" fill="#3c961e"/>
<circle cx="615.8" cy="519" r="2.6" fill="#3c961e"/>
<circle cx="615.8" cy="533.6" r="2.6" fill="#3c961e"/>
<circle cx="615.8" cy="536.6" r="2.6" fill="#3c961e"/>
<circle cx="615.8" cy="539.3" r="2.6" fill="#3c961e"/>
<circle cx="615.8" cy="541.8" r="2.6" fill="#3c961e"/>
<circle cx="615.8" cy="555.5" r="2.6" fill="#3c961e"/>
<circle cx="615.8" cy="558.3" r="2.6" fill="#3c961e"/>
<circle cx="615.8" cy="568.5" r="2.6" fill="#3c961e"/>
<circle cx="615.8" cy="575" r="2.6" fill="#3c961e"/>
<circle cx="615.8" cy="579.2" r="2.6" fill="#3c961e"/>
<line x1="522.5" y1="438.8" x2="522.5" y2="614.2" stroke="#3a3a3a" stroke-width="1.1"/>
<line x1="519.9" y1="614.2" x2="638.6" y2="614.2" stroke="#3a3a3a" stroke-width="1.15"/>
<text x="514.6" y="617.8" font-size="10.8" font-weight="bold" text-anchor="end" fill="#000">10</text>
<text x="514.3" y="614.9" font-size="8.5" font-weight="bold" fill="#000">0</text>
<line x1="519.9" y1="578.98" x2="522.5" y2="578.98" stroke="#3a3a3a" stroke-width="1.1"/>
<text x="514.6" y="582.88" font-size="10.8" font-weight="bold" text-anchor="end" fill="#000">10</text>
<text x="514.3" y="579.98" font-size="8.5" font-weight="bold" fill="#000">1</text>
<line x1="519.9" y1="544.06" x2="522.5" y2="544.06" stroke="#3a3a3a" stroke-width="1.1"/>
<text x="514.6" y="547.96" font-size="10.8" font-weight="bold" text-anchor="end" fill="#000">10</text>
<text x="514.3" y="545.06" font-size="8.5" font-weight="bold" fill="#000">2</text>
<line x1="519.9" y1="509.14" x2="522.5" y2="509.14" stroke="#3a3a3a" stroke-width="1.1"/>
<text x="514.6" y="513.04" font-size="10.8" font-weight="bold" text-anchor="end" fill="#000">10</text>
<text x="514.3" y="510.14" font-size="8.5" font-weight="bold" fill="#000">3</text>
<line x1="519.9" y1="474.22" x2="522.5" y2="474.22" stroke="#3a3a3a" stroke-width="1.1"/>
<text x="514.6" y="478.12" font-size="10.8" font-weight="bold" text-anchor="end" fill="#000">10</text>
<text x="514.3" y="475.22" font-size="8.5" font-weight="bold" fill="#000">4</text>
<line x1="519.9" y1="439.3" x2="522.5" y2="439.3" stroke="#3a3a3a" stroke-width="1.1"/>
<text x="514.6" y="443.2" font-size="10.8" font-weight="bold" text-anchor="end" fill="#000">10</text>
<text x="514.3" y="440.3" font-size="8.5" font-weight="bold" fill="#000">5</text>
<line x1="545.6" y1="614.2" x2="545.6" y2="617" stroke="#3a3a3a" stroke-width="1.1"/>
<line x1="580.6" y1="614.2" x2="580.6" y2="617" stroke="#3a3a3a" stroke-width="1.1"/>
<line x1="615.8" y1="614.2" x2="615.8" y2="617" stroke="#3a3a3a" stroke-width="1.1"/>
<text transform="translate(490.1,536.8) rotate(-90)" font-size="10.8" font-weight="bold" text-anchor="middle" textLength="163.8" lengthAdjust="spacingAndGlyphs">PVNT50 &#160;(Reciprocal dilution factor)</text>
<text transform="translate(547.6,623.5) rotate(-45)" font-size="10" font-weight="bold" text-anchor="end">BA.2</text>
<text transform="translate(582.6,623.5) rotate(-45)" font-size="10" font-weight="bold" text-anchor="end">BA.2.86 S621P</text>
<text transform="translate(617.8,623.5) rotate(-45)" font-size="10" font-weight="bold" text-anchor="end">BA.2.86</text>
<path d="M545.6 461.2V452.2H615.8V461.2" fill="none" stroke="#5a5a5a" stroke-width="1.1"/>
<path d="M545.6 466.8V463.8H579.4V475.7" fill="none" stroke="#5a5a5a" stroke-width="1.1"/>
<path d="M581.8 475.7V463.8H615.8V487.5" fill="none" stroke="#5a5a5a" stroke-width="1.1"/>
<text x="563.1" y="461.3" font-size="5.8" text-anchor="middle" textLength="5.2" lengthAdjust="spacingAndGlyphs" fill="#222">ns</text>
<circle cx="598.2" cy="460.2" r="1.55" fill="#1a1a1a"/>
<circle cx="575.95" cy="448.6" r="1.55" fill="#1a1a1a"/>
<circle cx="579.05" cy="448.6" r="1.55" fill="#1a1a1a"/>
<circle cx="582.15" cy="448.6" r="1.55" fill="#1a1a1a"/>
<circle cx="585.25" cy="448.6" r="1.55" fill="#1a1a1a"/>
<text x="145.7" y="710.4" font-size="13.6" font-weight="bold" text-anchor="middle" fill="#000">BA.2.86 R681H</text>
<line x1="87" y1="838.31" x2="203.8" y2="838.31" stroke="#c4c4c4" stroke-width="1.3"/>
<path d="M110.4 763.7L145.4 849.1L180.5 854.9M110.4 766.8L145.4 839.5L180.5 828.9M110.4 770L145.4 849.1L180.5 865.8M110.4 773.1L145.4 856.4L180.5 865.8M110.4 778.3L145.4 802.2L180.5 820.3M110.4 780.9L145.4 800L180.5 777.1M110.4 780.9L145.4 802.2L180.5 826M110.4 780.9L145.4 808.7L180.5 828.9M110.4 783.5L145.4 856.4L180.5 861.5M110.4 783.5L145.4 824.5L180.5 854.9M110.4 783.5L145.4 804.3L180.5 820.3M110.4 788.2L145.4 802.2L180.5 796.9M110.4 790.8L145.4 830.8L180.5 831.8M110.4 793.4L145.4 839.5L180.5 841.5M110.4 796L145.4 865.8L180.5 854.9M110.4 799.1L145.4 821.5L180.5 823.2M110.4 802.2L145.4 790.3L180.5 799.2M110.4 802.2L145.4 839.5L180.5 844.3M110.4 804.8L145.4 856.4L180.5 861.5M110.4 812.8L145.4 818.5L180.5 805.5M110.4 818.6L145.4 827.7L180.5 828.9M110.4 838.4L145.4 800L180.5 777.1" fill="none" stroke="#d0d0d0" stroke-width="0.5"/>
<circle cx="110.4" cy="763.7" r="2.6" fill="#1600d4"/>
<circle cx="110.4" cy="766.8" r="2.6" fill="#1600d4"/>
<circle cx="110.4" cy="770" r="2.6" fill="#1600d4"/>
<circle cx="110.4" cy="773.1" r="2.6" fill="#1600d4"/>
<circle cx="110.4" cy="778.3" r="2.6" fill="#1600d4"/>
<circle cx="110.4" cy="780.9" r="2.6" fill="#1600d4"/>
<circle cx="110.4" cy="783.5" r="2.6" fill="#1600d4"/>
<circle cx="110.4" cy="788.2" r="2.6" fill="#1600d4"/>
<circle cx="110.4" cy="790.8" r="2.6" fill="#1600d4"/>
<circle cx="110.4" cy="793.4" r="2.6" fill="#1600d4"/>
<circle cx="110.4" cy="796" r="2.6" fill="#1600d4"/>
<circle cx="110.4" cy="799.1" r="2.6" fill="#1600d4"/>
<circle cx="110.4" cy="802.2" r="2.6" fill="#1600d4"/>
<circle cx="110.4" cy="804.8" r="2.6" fill="#1600d4"/>
<circle cx="110.4" cy="812.8" r="2.6" fill="#1600d4"/>
<circle cx="110.4" cy="818.6" r="2.6" fill="#1600d4"/>
<circle cx="110.4" cy="838.4" r="2.6" fill="#1600d4"/>
<circle cx="145.4" cy="790.3" r="2.6" fill="#8a1e96"/>
<circle cx="145.4" cy="800" r="2.6" fill="#8a1e96"/>
<circle cx="145.4" cy="802.2" r="2.6" fill="#8a1e96"/>
<circle cx="145.4" cy="804.3" r="2.6" fill="#8a1e96"/>
<circle cx="145.4" cy="808.7" r="2.6" fill="#8a1e96"/>
<circle cx="145.4" cy="818.5" r="2.6" fill="#8a1e96"/>
<circle cx="145.4" cy="821.5" r="2.6" fill="#8a1e96"/>
<circle cx="145.4" cy="824.5" r="2.6" fill="#8a1e96"/>
<circle cx="145.4" cy="827.7" r="2.6" fill="#8a1e96"/>
<circle cx="145.4" cy="830.8" r="2.6" fill="#8a1e96"/>
<circle cx="145.4" cy="839.5" r="2.6" fill="#8a1e96"/>
<circle cx="145.4" cy="849.1" r="2.6" fill="#8a1e96"/>
<circle cx="145.4" cy="856.4" r="2.6" fill="#8a1e96"/>
<circle cx="145.4" cy="865.8" r="2.6" fill="#8a1e96"/>
<circle cx="180.5" cy="777.1" r="2.6" fill="#3c961e"/>
<circle cx="180.5" cy="796.9" r="2.6" fill="#3c961e"/>
<circle cx="180.5" cy="799.2" r="2.6" fill="#3c961e"/>
<circle cx="180.5" cy="805.5" r="2.6" fill="#3c961e"/>
<circle cx="180.5" cy="820.3" r="2.6" fill="#3c961e"/>
<circle cx="180.5" cy="823.2" r="2.6" fill="#3c961e"/>
<circle cx="180.5" cy="826" r="2.6" fill="#3c961e"/>
<circle cx="180.5" cy="828.9" r="2.6" fill="#3c961e"/>
<circle cx="180.5" cy="831.8" r="2.6" fill="#3c961e"/>
<circle cx="180.5" cy="841.5" r="2.6" fill="#3c961e"/>
<circle cx="180.5" cy="844.3" r="2.6" fill="#3c961e"/>
<circle cx="180.5" cy="854.9" r="2.6" fill="#3c961e"/>
<circle cx="180.5" cy="861.5" r="2.6" fill="#3c961e"/>
<circle cx="180.5" cy="865.8" r="2.6" fill="#3c961e"/>
<line x1="87" y1="725.1" x2="87" y2="900.4" stroke="#3a3a3a" stroke-width="1.1"/>
<line x1="84.4" y1="900.4" x2="203.8" y2="900.4" stroke="#3a3a3a" stroke-width="1.15"/>
<text x="79.1" y="904.4" font-size="10.8" font-weight="bold" text-anchor="end" fill="#000">10</text>
<text x="78.8" y="901.5" font-size="8.5" font-weight="bold" fill="#000">0</text>
<line x1="84.4" y1="865.52" x2="87" y2="865.52" stroke="#3a3a3a" stroke-width="1.1"/>
<text x="79.1" y="869.42" font-size="10.8" font-weight="bold" text-anchor="end" fill="#000">10</text>
<text x="78.8" y="866.52" font-size="8.5" font-weight="bold" fill="#000">1</text>
<line x1="84.4" y1="830.54" x2="87" y2="830.54" stroke="#3a3a3a" stroke-width="1.1"/>
<text x="79.1" y="834.44" font-size="10.8" font-weight="bold" text-anchor="end" fill="#000">10</text>
<text x="78.8" y="831.54" font-size="8.5" font-weight="bold" fill="#000">2</text>
<line x1="84.4" y1="795.56" x2="87" y2="795.56" stroke="#3a3a3a" stroke-width="1.1"/>
<text x="79.1" y="799.46" font-size="10.8" font-weight="bold" text-anchor="end" fill="#000">10</text>
<text x="78.8" y="796.56" font-size="8.5" font-weight="bold" fill="#000">3</text>
<line x1="84.4" y1="760.58" x2="87" y2="760.58" stroke="#3a3a3a" stroke-width="1.1"/>
<text x="79.1" y="764.48" font-size="10.8" font-weight="bold" text-anchor="end" fill="#000">10</text>
<text x="78.8" y="761.58" font-size="8.5" font-weight="bold" fill="#000">4</text>
<line x1="84.4" y1="725.6" x2="87" y2="725.6" stroke="#3a3a3a" stroke-width="1.1"/>
<text x="79.1" y="729.5" font-size="10.8" font-weight="bold" text-anchor="end" fill="#000">10</text>
<text x="78.8" y="726.6" font-size="8.5" font-weight="bold" fill="#000">5</text>
<line x1="110.4" y1="900.4" x2="110.4" y2="903.2" stroke="#3a3a3a" stroke-width="1.1"/>
<line x1="145.4" y1="900.4" x2="145.4" y2="903.2" stroke="#3a3a3a" stroke-width="1.1"/>
<line x1="180.5" y1="900.4" x2="180.5" y2="903.2" stroke="#3a3a3a" stroke-width="1.1"/>
<text transform="translate(58.6,824.1) rotate(-90)" font-size="10.8" font-weight="bold" text-anchor="middle" textLength="163.8" lengthAdjust="spacingAndGlyphs">PVNT50 &#160;(Reciprocal dilution factor)</text>
<text transform="translate(112.4,910.1) rotate(-45)" font-size="10" font-weight="bold" text-anchor="end">BA.2</text>
<text transform="translate(147.4,910.1) rotate(-45)" font-size="10" font-weight="bold" text-anchor="end">BA.2.86 R681H</text>
<text transform="translate(182.5,910.1) rotate(-45)" font-size="10" font-weight="bold" text-anchor="end">BA.2.86</text>
<path d="M110.4 753.9V744.9H180.5V753.9" fill="none" stroke="#5a5a5a" stroke-width="1.1"/>
<path d="M110.4 760.1V757.3H144.2V787.3" fill="none" stroke="#5a5a5a" stroke-width="1.1"/>
<path d="M146.6 787.3V757.3H180.5V773.8" fill="none" stroke="#5a5a5a" stroke-width="1.1"/>
<circle cx="123.25" cy="753.7" r="1.55" fill="#1a1a1a"/>
<circle cx="126.35" cy="753.7" r="1.55" fill="#1a1a1a"/>
<circle cx="129.45" cy="753.7" r="1.55" fill="#1a1a1a"/>
<circle cx="132.55" cy="753.7" r="1.55" fill="#1a1a1a"/>
<text x="162.95" y="754.8" font-size="5.8" text-anchor="middle" textLength="5.2" lengthAdjust="spacingAndGlyphs" fill="#222">ns</text>
<circle cx="140.75" cy="741.3" r="1.55" fill="#1a1a1a"/>
<circle cx="143.85" cy="741.3" r="1.55" fill="#1a1a1a"/>
<circle cx="146.95" cy="741.3" r="1.55" fill="#1a1a1a"/>
<circle cx="150.05" cy="741.3" r="1.55" fill="#1a1a1a"/>
<text x="361.3" y="710.4" font-size="13.6" font-weight="bold" text-anchor="middle" fill="#000">BA.2.86 F939S</text>
<line x1="303.9" y1="838.31" x2="419.5" y2="838.31" stroke="#c4c4c4" stroke-width="1.3"/>
<path d="M326.6 756.9L361.5 831.8L396.6 796M326.6 756.9L361.5 802.9L396.6 793.5M326.6 763.4L361.5 805.8L396.6 798.9M326.6 763.4L361.5 802.9L396.6 861.4M326.6 766.3L361.5 812.1L396.6 805.2M326.6 769.2L361.5 812.1L396.6 798.9M326.6 772L361.5 862.9L396.6 865.8M326.6 773.7L361.5 865.8L396.6 865.8M326.6 778.9L361.5 815.8L396.6 820M326.6 778.9L361.5 819.5L396.6 822.9M326.6 781.7L361.5 822.8L396.6 825.8M326.6 781.7L361.5 760.4L396.6 796M326.6 789L361.5 829.2L396.6 805.2M326.6 794.9L361.5 843.8L396.6 842.3M326.6 797.8L361.5 849L396.6 828.6M326.6 800.6L361.5 840L396.6 854.9M326.6 804.1L361.5 834.4L396.6 861.4M326.6 804.1L361.5 837.2L396.6 844.6M326.6 813L361.5 812.1L396.6 842.3M326.6 838.4L361.5 808.6L396.6 798.9" fill="none" stroke="#d0d0d0" stroke-width="0.5"/>
<circle cx="326.6" cy="756.9" r="2.6" fill="#1600d4"/>
<circle cx="326.6" cy="763.4" r="2.6" fill="#1600d4"/>
<circle cx="326.6" cy="766.3" r="2.6" fill="#1600d4"/>
<circle cx="326.6" cy="769.2" r="2.6" fill="#1600d4"/>
<circle cx="326.6" cy="772" r="2.6" fill="#1600d4"/>
<circle cx="326.6" cy="773.7" r="2.6" fill="#1600d4"/>
<circle cx="326.6" cy="778.9" r="2.6" fill="#1600d4"/>
<circle cx="326.6" cy="781.7" r="2.6" fill="#1600d4"/>
<circle cx="326.6" cy="789" r="2.6" fill="#1600d4"/>
<circle cx="326.6" cy="794.9" r="2.6" fill="#1600d4"/>
<circle cx="326.6" cy="797.8" r="2.6" fill="#1600d4"/>
<circle cx="326.6" cy="800.6" r="2.6" fill="#1600d4"/>
<circle cx="326.6" cy="804.1" r="2.6" fill="#1600d4"/>
<circle cx="326.6" cy="813" r="2.6" fill="#1600d4"/>
<circle cx="326.6" cy="838.4" r="2.6" fill="#1600d4"/>
<circle cx="361.5" cy="760.4" r="2.6" fill="#8a1e96"/>
<circle cx="361.5" cy="802.9" r="2.6" fill="#8a1e96"/>
<circle cx="361.5" cy="805.8" r="2.6" fill="#8a1e96"/>
<circle cx="361.5" cy="808.6" r="2.6" fill="#8a1e96"/>
<circle cx="361.5" cy="812.1" r="2.6" fill="#8a1e96"/>
<circle cx="361.5" cy="815.8" r="2.6" fill="#8a1e96"/>
<circle cx="361.5" cy="819.5" r="2.6" fill="#8a1e96"/>
<circle cx="361.5" cy="822.8" r="2.6" fill="#8a1e96"/>
<circle cx="361.5" cy="829.2" r="2.6" fill="#8a1e96"/>
<circle cx="361.5" cy="831.8" r="2.6" fill="#8a1e96"/>
<circle cx="361.5" cy="834.4" r="2.6" fill="#8a1e96"/>
<circle cx="361.5" cy="837.2" r="2.6" fill="#8a1e96"/>
<circle cx="361.5" cy="840" r="2.6" fill="#8a1e96"/>
<circle cx="361.5" cy="843.8" r="2.6" fill="#8a1e96"/>
<circle cx="361.5" cy="849" r="2.6" fill="#8a1e96"/>
<circle cx="361.5" cy="862.9" r="2.6" fill="#8a1e96"/>
<circle cx="361.5" cy="865.8" r="2.6" fill="#8a1e96"/>
<circle cx="396.6" cy="793.5" r="2.6" fill="#3c961e"/>
<circle cx="396.6" cy="796" r="2.6" fill="#3c961e"/>
<circle cx="396.6" cy="798.9" r="2.6" fill="#3c961e"/>
<circle cx="396.6" cy="805.2" r="2.6" fill="#3c961e"/>
<circle cx="396.6" cy="820" r="2.6" fill="#3c961e"/>
<circle cx="396.6" cy="822.9" r="2.6" fill="#3c961e"/>
<circle cx="396.6" cy="825.8" r="2.6" fill="#3c961e"/>
<circle cx="396.6" cy="828.6" r="2.6" fill="#3c961e"/>
<circle cx="396.6" cy="842.3" r="2.6" fill="#3c961e"/>
<circle cx="396.6" cy="844.6" r="2.6" fill="#3c961e"/>
<circle cx="396.6" cy="854.9" r="2.6" fill="#3c961e"/>
<circle cx="396.6" cy="861.4" r="2.6" fill="#3c961e"/>
<circle cx="396.6" cy="865.8" r="2.6" fill="#3c961e"/>
<line x1="303.9" y1="725.1" x2="303.9" y2="900.4" stroke="#3a3a3a" stroke-width="1.1"/>
<line x1="301.3" y1="900.4" x2="419.5" y2="900.4" stroke="#3a3a3a" stroke-width="1.15"/>
<text x="296" y="904.4" font-size="10.8" font-weight="bold" text-anchor="end" fill="#000">10</text>
<text x="295.7" y="901.5" font-size="8.5" font-weight="bold" fill="#000">0</text>
<line x1="301.3" y1="865.52" x2="303.9" y2="865.52" stroke="#3a3a3a" stroke-width="1.1"/>
<text x="296" y="869.42" font-size="10.8" font-weight="bold" text-anchor="end" fill="#000">10</text>
<text x="295.7" y="866.52" font-size="8.5" font-weight="bold" fill="#000">1</text>
<line x1="301.3" y1="830.54" x2="303.9" y2="830.54" stroke="#3a3a3a" stroke-width="1.1"/>
<text x="296" y="834.44" font-size="10.8" font-weight="bold" text-anchor="end" fill="#000">10</text>
<text x="295.7" y="831.54" font-size="8.5" font-weight="bold" fill="#000">2</text>
<line x1="301.3" y1="795.56" x2="303.9" y2="795.56" stroke="#3a3a3a" stroke-width="1.1"/>
<text x="296" y="799.46" font-size="10.8" font-weight="bold" text-anchor="end" fill="#000">10</text>
<text x="295.7" y="796.56" font-size="8.5" font-weight="bold" fill="#000">3</text>
<line x1="301.3" y1="760.58" x2="303.9" y2="760.58" stroke="#3a3a3a" stroke-width="1.1"/>
<text x="296" y="764.48" font-size="10.8" font-weight="bold" text-anchor="end" fill="#000">10</text>
<text x="295.7" y="761.58" font-size="8.5" font-weight="bold" fill="#000">4</text>
<line x1="301.3" y1="725.6" x2="303.9" y2="725.6" stroke="#3a3a3a" stroke-width="1.1"/>
<text x="296" y="729.5" font-size="10.8" font-weight="bold" text-anchor="end" fill="#000">10</text>
<text x="295.7" y="726.6" font-size="8.5" font-weight="bold" fill="#000">5</text>
<line x1="326.6" y1="900.4" x2="326.6" y2="903.2" stroke="#3a3a3a" stroke-width="1.1"/>
<line x1="361.5" y1="900.4" x2="361.5" y2="903.2" stroke="#3a3a3a" stroke-width="1.1"/>
<line x1="396.6" y1="900.4" x2="396.6" y2="903.2" stroke="#3a3a3a" stroke-width="1.1"/>
<text transform="translate(277.8,821) rotate(-90)" font-size="10.8" font-weight="bold" text-anchor="middle" textLength="163.8" lengthAdjust="spacingAndGlyphs">PVNT50 &#160;(Reciprocal dilution factor)</text>
<text transform="translate(328.6,910.1) rotate(-45)" font-size="10" font-weight="bold" text-anchor="end">BA.2</text>
<text transform="translate(363.5,910.1) rotate(-45)" font-size="10" font-weight="bold" text-anchor="end">BA.2.86 F939S</text>
<text transform="translate(398.6,910.1) rotate(-45)" font-size="10" font-weight="bold" text-anchor="end">BA.2.86</text>
<path d="M326.6 747.4V738.4H396.6V747.4" fill="none" stroke="#5a5a5a" stroke-width="1.1"/>
<path d="M326.6 753.3V750.5H360.3V757.4" fill="none" stroke="#5a5a5a" stroke-width="1.1"/>
<path d="M362.7 757.4V750.5H396.6V790.2" fill="none" stroke="#5a5a5a" stroke-width="1.1"/>
<circle cx="340.95" cy="746.9" r="1.55" fill="#1a1a1a"/>
<circle cx="344.05" cy="746.9" r="1.55" fill="#1a1a1a"/>
<circle cx="347.15" cy="746.9" r="1.55" fill="#1a1a1a"/>
<text x="379.05" y="748" font-size="5.8" text-anchor="middle" textLength="5.2" lengthAdjust="spacingAndGlyphs" fill="#222">ns</text>
<circle cx="356.85" cy="734.8" r="1.55" fill="#1a1a1a"/>
<circle cx="359.95" cy="734.8" r="1.55" fill="#1a1a1a"/>
<circle cx="363.05" cy="734.8" r="1.55" fill="#1a1a1a"/>
<circle cx="366.15" cy="734.8" r="1.55" fill="#1a1a1a"/>
<text x="573.3" y="710.4" font-size="13.6" font-weight="bold" text-anchor="middle" fill="#000">BA.2.86 L1143P</text>
<line x1="515.5" y1="838.38" x2="632.2" y2="838.38" stroke="#c4c4c4" stroke-width="1.3"/>
<path d="M538.7 756.7L574 837.5L608.8 844.6M538.7 763.3L574 786.6L608.8 793.5M538.7 766.2L574 824.4L608.8 822.9M538.7 769.1L574 786.6L608.8 822.9M538.7 772L574 824.4L608.8 822.9M538.7 774.2L574 808.1L608.8 805.2M538.7 779.3L574 820.8L608.8 820M538.7 779.3L574 850.6L608.8 861.4M538.7 779.3L574 828.1L608.8 842.3M538.7 782.2L574 865.5L608.8 865.8M538.7 788.8L574 824.4L608.8 798.9M538.7 794.6L574 848.4L608.8 854.9M538.7 798.2L574 785.4L608.8 796M538.7 798.2L574 799.7L608.8 798.9M538.7 801.9L574 841.1L608.8 844.6M538.7 801.9L574 848.4L608.8 854.9M538.7 804.8L574 786.6L608.8 793.5M538.7 804.8L574 831L608.8 828.6M538.7 812.5L574 844.8L608.8 825.8M538.7 838.2L574 831L608.8 844.6" fill="none" stroke="#d0d0d0" stroke-width="0.5"/>
<circle cx="538.7" cy="756.7" r="2.6" fill="#1600d4"/>
<circle cx="538.7" cy="763.3" r="2.6" fill="#1600d4"/>
<circle cx="538.7" cy="766.2" r="2.6" fill="#1600d4"/>
<circle cx="538.7" cy="769.1" r="2.6" fill="#1600d4"/>
<circle cx="538.7" cy="772" r="2.6" fill="#1600d4"/>
<circle cx="538.7" cy="774.2" r="2.6" fill="#1600d4"/>
<circle cx="538.7" cy="779.3" r="2.6" fill="#1600d4"/>
<circle cx="538.7" cy="782.2" r="2.6" fill="#1600d4"/>
<circle cx="538.7" cy="788.8" r="2.6" fill="#1600d4"/>
<circle cx="538.7" cy="794.6" r="2.6" fill="#1600d4"/>
<circle cx="538.7" cy="798.2" r="2.6" fill="#1600d4"/>
<circle cx="538.7" cy="801.9" r="2.6" fill="#1600d4"/>
<circle cx="538.7" cy="804.8" r="2.6" fill="#1600d4"/>
<circle cx="538.7" cy="812.5" r="2.6" fill="#1600d4"/>
<circle cx="538.7" cy="838.2" r="2.6" fill="#1600d4"/>
<circle cx="574" cy="785.4" r="2.6" fill="#8a1e96"/>
<circle cx="574" cy="786.6" r="2.6" fill="#8a1e96"/>
<circle cx="574" cy="799.7" r="2.6" fill="#8a1e96"/>
<circle cx="574" cy="808.1" r="2.6" fill="#8a1e96"/>
<circle cx="574" cy="820.8" r="2.6" fill="#8a1e96"/>
<circle cx="574" cy="824.4" r="2.6" fill="#8a1e96"/>
<circle cx="574" cy="828.1" r="2.6" fill="#8a1e96"/>
<circle cx="574" cy="831" r="2.6" fill="#8a1e96"/>
<circle cx="574" cy="837.5" r="2.6" fill="#8a1e96"/>
<circle cx="574" cy="841.1" r="2.6" fill="#8a1e96"/>
<circle cx="574" cy="844.8" r="2.6" fill="#8a1e96"/>
<circle cx="574" cy="848.4" r="2.6" fill="#8a1e96"/>
<circle cx="574" cy="850.6" r="2.6" fill="#8a1e96"/>
<circle cx="574" cy="865.5" r="2.6" fill="#8a1e96"/>
<circle cx="608.8" cy="793.5" r="2.6" fill="#3c961e"/>
<circle cx="608.8" cy="796" r="2.6" fill="#3c961e"/>
<circle cx="608.8" cy="798.9" r="2.6" fill="#3c961e"/>
<circle cx="608.8" cy="805.2" r="2.6" fill="#3c961e"/>
<circle cx="608.8" cy="820" r="2.6" fill="#3c961e"/>
<circle cx="608.8" cy="822.9" r="2.6" fill="#3c961e"/>
<circle cx="608.8" cy="825.8" r="2.6" fill="#3c961e"/>
<circle cx="608.8" cy="828.6" r="2.6" fill="#3c961e"/>
<circle cx="608.8" cy="842.3" r="2.6" fill="#3c961e"/>
<circle cx="608.8" cy="844.6" r="2.6" fill="#3c961e"/>
<circle cx="608.8" cy="854.9" r="2.6" fill="#3c961e"/>
<circle cx="608.8" cy="861.4" r="2.6" fill="#3c961e"/>
<circle cx="608.8" cy="865.8" r="2.6" fill="#3c961e"/>
<line x1="515.5" y1="725.3" x2="515.5" y2="900.4" stroke="#3a3a3a" stroke-width="1.1"/>
<line x1="512.9" y1="900.4" x2="632.2" y2="900.4" stroke="#3a3a3a" stroke-width="1.15"/>
<text x="507.6" y="904.4" font-size="10.8" font-weight="bold" text-anchor="end" fill="#000">10</text>
<text x="507.3" y="901.5" font-size="8.5" font-weight="bold" fill="#000">0</text>
<line x1="512.9" y1="865.56" x2="515.5" y2="865.56" stroke="#3a3a3a" stroke-width="1.1"/>
<text x="507.6" y="869.46" font-size="10.8" font-weight="bold" text-anchor="end" fill="#000">10</text>
<text x="507.3" y="866.56" font-size="8.5" font-weight="bold" fill="#000">1</text>
<line x1="512.9" y1="830.62" x2="515.5" y2="830.62" stroke="#3a3a3a" stroke-width="1.1"/>
<text x="507.6" y="834.52" font-size="10.8" font-weight="bold" text-anchor="end" fill="#000">10</text>
<text x="507.3" y="831.62" font-size="8.5" font-weight="bold" fill="#000">2</text>
<line x1="512.9" y1="795.68" x2="515.5" y2="795.68" stroke="#3a3a3a" stroke-width="1.1"/>
<text x="507.6" y="799.58" font-size="10.8" font-weight="bold" text-anchor="end" fill="#000">10</text>
<text x="507.3" y="796.68" font-size="8.5" font-weight="bold" fill="#000">3</text>
<line x1="512.9" y1="760.74" x2="515.5" y2="760.74" stroke="#3a3a3a" stroke-width="1.1"/>
<text x="507.6" y="764.64" font-size="10.8" font-weight="bold" text-anchor="end" fill="#000">10</text>
<text x="507.3" y="761.74" font-size="8.5" font-weight="bold" fill="#000">4</text>
<line x1="512.9" y1="725.8" x2="515.5" y2="725.8" stroke="#3a3a3a" stroke-width="1.1"/>
<text x="507.6" y="729.7" font-size="10.8" font-weight="bold" text-anchor="end" fill="#000">10</text>
<text x="507.3" y="726.8" font-size="8.5" font-weight="bold" fill="#000">5</text>
<line x1="538.7" y1="900.4" x2="538.7" y2="903.2" stroke="#3a3a3a" stroke-width="1.1"/>
<line x1="574" y1="900.4" x2="574" y2="903.2" stroke="#3a3a3a" stroke-width="1.1"/>
<line x1="608.8" y1="900.4" x2="608.8" y2="903.2" stroke="#3a3a3a" stroke-width="1.1"/>
<text transform="translate(489.7,821.9) rotate(-90)" font-size="10.8" font-weight="bold" text-anchor="middle" textLength="163.8" lengthAdjust="spacingAndGlyphs">PVNT50 &#160;(Reciprocal dilution factor)</text>
<text transform="translate(540.7,910.1) rotate(-45)" font-size="10" font-weight="bold" text-anchor="end">BA.2</text>
<text transform="translate(576,910.1) rotate(-45)" font-size="10" font-weight="bold" text-anchor="end">BA.2.86 L1143P</text>
<text transform="translate(610.8,910.1) rotate(-45)" font-size="10" font-weight="bold" text-anchor="end">BA.2.86</text>
<path d="M538.7 747.4V738.4H608.8V747.4" fill="none" stroke="#5a5a5a" stroke-width="1.1"/>
<path d="M538.7 753.1V750.5H572.8V782.4" fill="none" stroke="#5a5a5a" stroke-width="1.1"/>
<path d="M575.2 782.4V750.5H608.8V790.2" fill="none" stroke="#5a5a5a" stroke-width="1.1"/>
<circle cx="551.7" cy="746.9" r="1.55" fill="#1a1a1a"/>
<circle cx="554.8" cy="746.9" r="1.55" fill="#1a1a1a"/>
<circle cx="557.9" cy="746.9" r="1.55" fill="#1a1a1a"/>
<circle cx="561" cy="746.9" r="1.55" fill="#1a1a1a"/>
<text x="591.4" y="748" font-size="5.8" text-anchor="middle" textLength="5.2" lengthAdjust="spacingAndGlyphs" fill="#222">ns</text>
<circle cx="569.35" cy="734.8" r="1.55" fill="#1a1a1a"/>
<circle cx="572.45" cy="734.8" r="1.55" fill="#1a1a1a"/>
<circle cx="575.55" cy="734.8" r="1.55" fill="#1a1a1a"/>
<circle cx="578.65" cy="734.8" r="1.55" fill="#1a1a1a"/>
</svg>
</body></html>
